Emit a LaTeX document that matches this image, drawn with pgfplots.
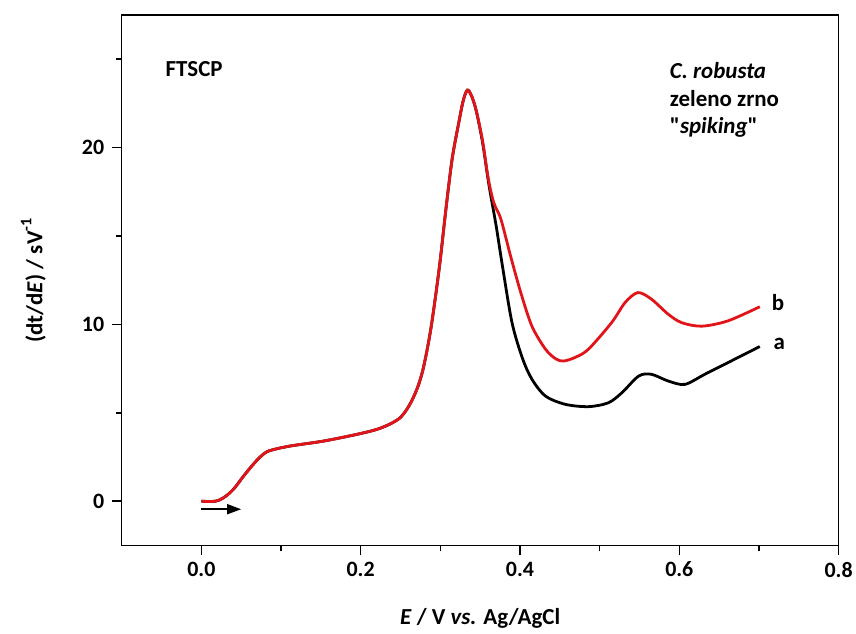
\documentclass[border=0pt]{standalone}
\usepackage{fontspec}
\setmainfont{Carlito}
\newfontfamily\qfont{Carlito}[Ligatures=TeXOff]
\usepackage{pgfplots}
\pgfplotsset{compat=1.18}
\usetikzlibrary{arrows.meta}
\definecolor{cred}{RGB}{225,20,25}
\begin{document}
\begin{tikzpicture}
\begin{axis}[
  scale only axis, width=719pt, height=532pt,
  xmin=-0.1, xmax=0.8, ymin=-2.5, ymax=27.5,
  xtick={0,0.2,0.4,0.6,0.8}, minor xtick={0.1,0.3,0.5,0.7},
  ytick={0,10,20}, minor ytick={5,15,25},
  tick pos=left, tick align=outside,
  major tick length=10pt, minor tick length=6pt,
  axis line style={line width=1.6pt},
  every tick/.style={line width=1.6pt, black},
  /pgf/number format/assume math mode=true,
  xticklabel style={/pgf/number format/fixed, /pgf/number format/fixed zerofill, /pgf/number format/precision=1, yshift=-3pt},
  yticklabel style={xshift=-4pt},
  tick label style={font=\fontsize{22}{26}\selectfont\bfseries},
  label style={font=\fontsize{23}{27}\selectfont\bfseries},
  xlabel={\textit{E} / V \textit{vs.} Ag/AgCl},
  ylabel={(dt/d\textit{E}) / sV\raisebox{2pt}{\textsuperscript{-1}}},
  xlabel style={at={(axis description cs:0.5,-0.137)}, anchor=center},
  ylabel style={at={(axis description cs:-0.123,0.5)}, anchor=center},
  clip=false,
]
\addplot[black, line width=2.8pt, smooth, tension=0.5] coordinates {
(0,0) (0.0175,0) (0.028,0.2) (0.04,0.66) (0.053,1.42) (0.065,2.08) (0.075,2.55) (0.085,2.85) (0.111,3.12) (0.153,3.40) (0.195,3.78) (0.22,4.06) (0.236,4.35) (0.249,4.7) (0.258,5.2) (0.265,5.76) (0.272,6.5) (0.278,7.4) (0.284,8.7) (0.29,10.3) (0.299,13.3) (0.307,16.5) (0.315,19.4) (0.324,21.6) (0.329,22.7) (0.334,23.25) (0.339,22.95) (0.345,22.1) (0.353,20.3) (0.361,17.9) (0.370,15.6) (0.378,13.3) (0.390,10.1) (0.403,8.1) (0.415,6.9) (0.432,5.95) (0.457,5.48) (0.486,5.35) (0.511,5.57) (0.528,6.14) (0.549,7.08) (0.565,7.18) (0.586,6.8) (0.607,6.61) (0.632,7.18) (0.665,7.93) (0.701,8.75)
};
\addplot[cred, line width=2.8pt, smooth, tension=0.5] coordinates {
(0,0) (0.0175,0) (0.028,0.2) (0.04,0.66) (0.053,1.42) (0.065,2.08) (0.075,2.55) (0.085,2.85) (0.111,3.12) (0.153,3.40) (0.195,3.78) (0.22,4.06) (0.236,4.35) (0.249,4.7) (0.258,5.2) (0.265,5.76) (0.272,6.5) (0.278,7.4) (0.284,8.7) (0.29,10.3) (0.299,13.3) (0.307,16.5) (0.315,19.4) (0.324,21.6) (0.329,22.7) (0.334,23.25) (0.339,22.95) (0.345,22.1) (0.353,20.4) (0.360,18.3) (0.367,16.9) (0.376,15.96) (0.388,13.9) (0.401,11.8) (0.415,9.9) (0.432,8.6) (0.445,8.05) (0.455,7.93) (0.47,8.15) (0.486,8.6) (0.515,10.1) (0.532,11.24) (0.548,11.8) (0.565,11.43) (0.586,10.58) (0.603,10.1) (0.628,9.9) (0.661,10.2) (0.701,11.0)
};
\addplot[black, line width=1.6pt, -{Stealth[length=14pt,width=10pt,inset=0pt]}] coordinates {(0,-0.45) (0.05,-0.45)};
\path (rel axis cs:0,0) ++(-122pt,-88pt) coordinate (bbA);
\path (rel axis cs:1,1) ++(15pt,15pt) coordinate (bbB);
\path[use as bounding box] (bbA) rectangle (bbB);
\node[anchor=west, inner sep=0pt, font=\fontsize{23}{27}\selectfont\bfseries] at (axis cs:-0.045,24.45) {FTSCP};
\node[anchor=west, inner sep=0pt, font=\fontsize{23}{27}\selectfont\bfseries] at (axis cs:0.588,24.35) {\textit{C. robusta}};
\node[anchor=west, inner sep=0pt, font=\fontsize{23}{27}\selectfont\bfseries] at (axis cs:0.588,22.76) {zeleno zrno};
\node[anchor=west, inner sep=0pt, font=\fontsize{23}{27}\selectfont\bfseries] at (axis cs:0.588,21.17) {{\qfont "}\textit{spiking}{\qfont "}};
\node[anchor=west, inner sep=0pt, font=\fontsize{23}{27}\selectfont\bfseries] at (axis cs:0.716,11.25) {b};
\node[anchor=west, inner sep=0pt, font=\fontsize{23}{27}\selectfont\bfseries] at (axis cs:0.718,8.9) {a};
\end{axis}
\end{tikzpicture}
\end{document}
